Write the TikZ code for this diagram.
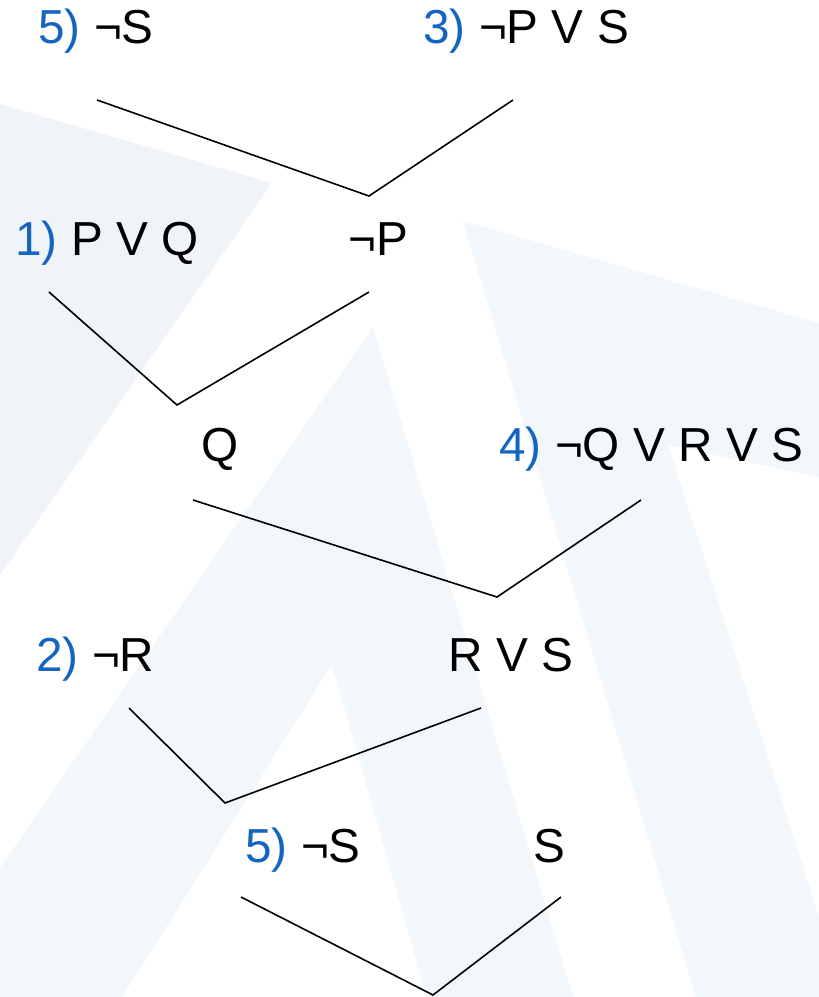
\documentclass[tikz,border=0pt]{standalone}
\usepackage{fontspec}
\setmainfont{Liberation Sans}
\definecolor{clblue}{RGB}{21,101,192}
\definecolor{paleA}{RGB}{240,244,248}
\definecolor{paleB}{RGB}{241,247,251}
\newcommand{\clnum}[1]{\textcolor{clblue}{#1}}

\begin{document}
\begin{tikzpicture}[x=0.5pt,y=-0.5pt,
  fml/.style={anchor=base west,inner sep=0pt,font=\fontsize{23.85}{28}\selectfont},
  link/.style={line width=0.8pt}]

\useasboundingbox (0,0) rectangle (819,997);
\fill[white] (0,0) rectangle (819,997);
\fill[paleA] (0,104) -- (272,183) -- (0,575) -- cycle;
\fill[paleB] (373,327) -- (573,997) -- (427,997) -- (332,664) -- (122,997) -- (0,997) -- (0,868) -- cycle;
\fill[paleB] (463,221) -- (819,323) -- (819,477) -- (668,445) -- (819,917) -- (819,997) -- (696,997) -- cycle;

\node[fml] (ns1) at (38,43) {\clnum{5)} ¬S};
\node[fml] (npvs) at (423,43) {\clnum{3)} ¬P V S};
\node[fml] (pvq) at (15,255) {\clnum{1)} P V Q};
\node[fml] (np) at (348,255) {¬P};
\node[fml] (q) at (201,461) {Q};
\node[fml] (nqrs) at (499,461) {\clnum{4)} ¬Q V R V S};
\node[fml] (nr) at (36,671) {\clnum{2)} ¬R};
\node[fml] (rvs) at (448,671) {R V S};
\node[fml] (ns2) at (245,862) {\clnum{5)} ¬S};
\node[fml] (s) at (533,862) {S};

\coordinate (a1) at (97,100);
\coordinate (b1) at (369,196);
\coordinate (c1) at (513,100);
\coordinate (a2) at (49,292);
\coordinate (b2) at (177,405);
\coordinate (c2) at (369,292);
\coordinate (a3) at (193,500);
\coordinate (b3) at (497,597);
\coordinate (c3) at (641,500);
\coordinate (a4) at (129,708);
\coordinate (b4) at (225,803);
\coordinate (c4) at (481,708);
\coordinate (a5) at (241,897);
\coordinate (b5) at (433,995);
\coordinate (c5) at (561,897);

\draw[link] (a1) -- (b1) -- (c1);
\draw[link] (a2) -- (b2) -- (c2);
\draw[link] (a3) -- (b3) -- (c3);
\draw[link] (a4) -- (b4) -- (c4);
\draw[link] (a5) -- (b5) -- (c5);
\end{tikzpicture}
\end{document}
